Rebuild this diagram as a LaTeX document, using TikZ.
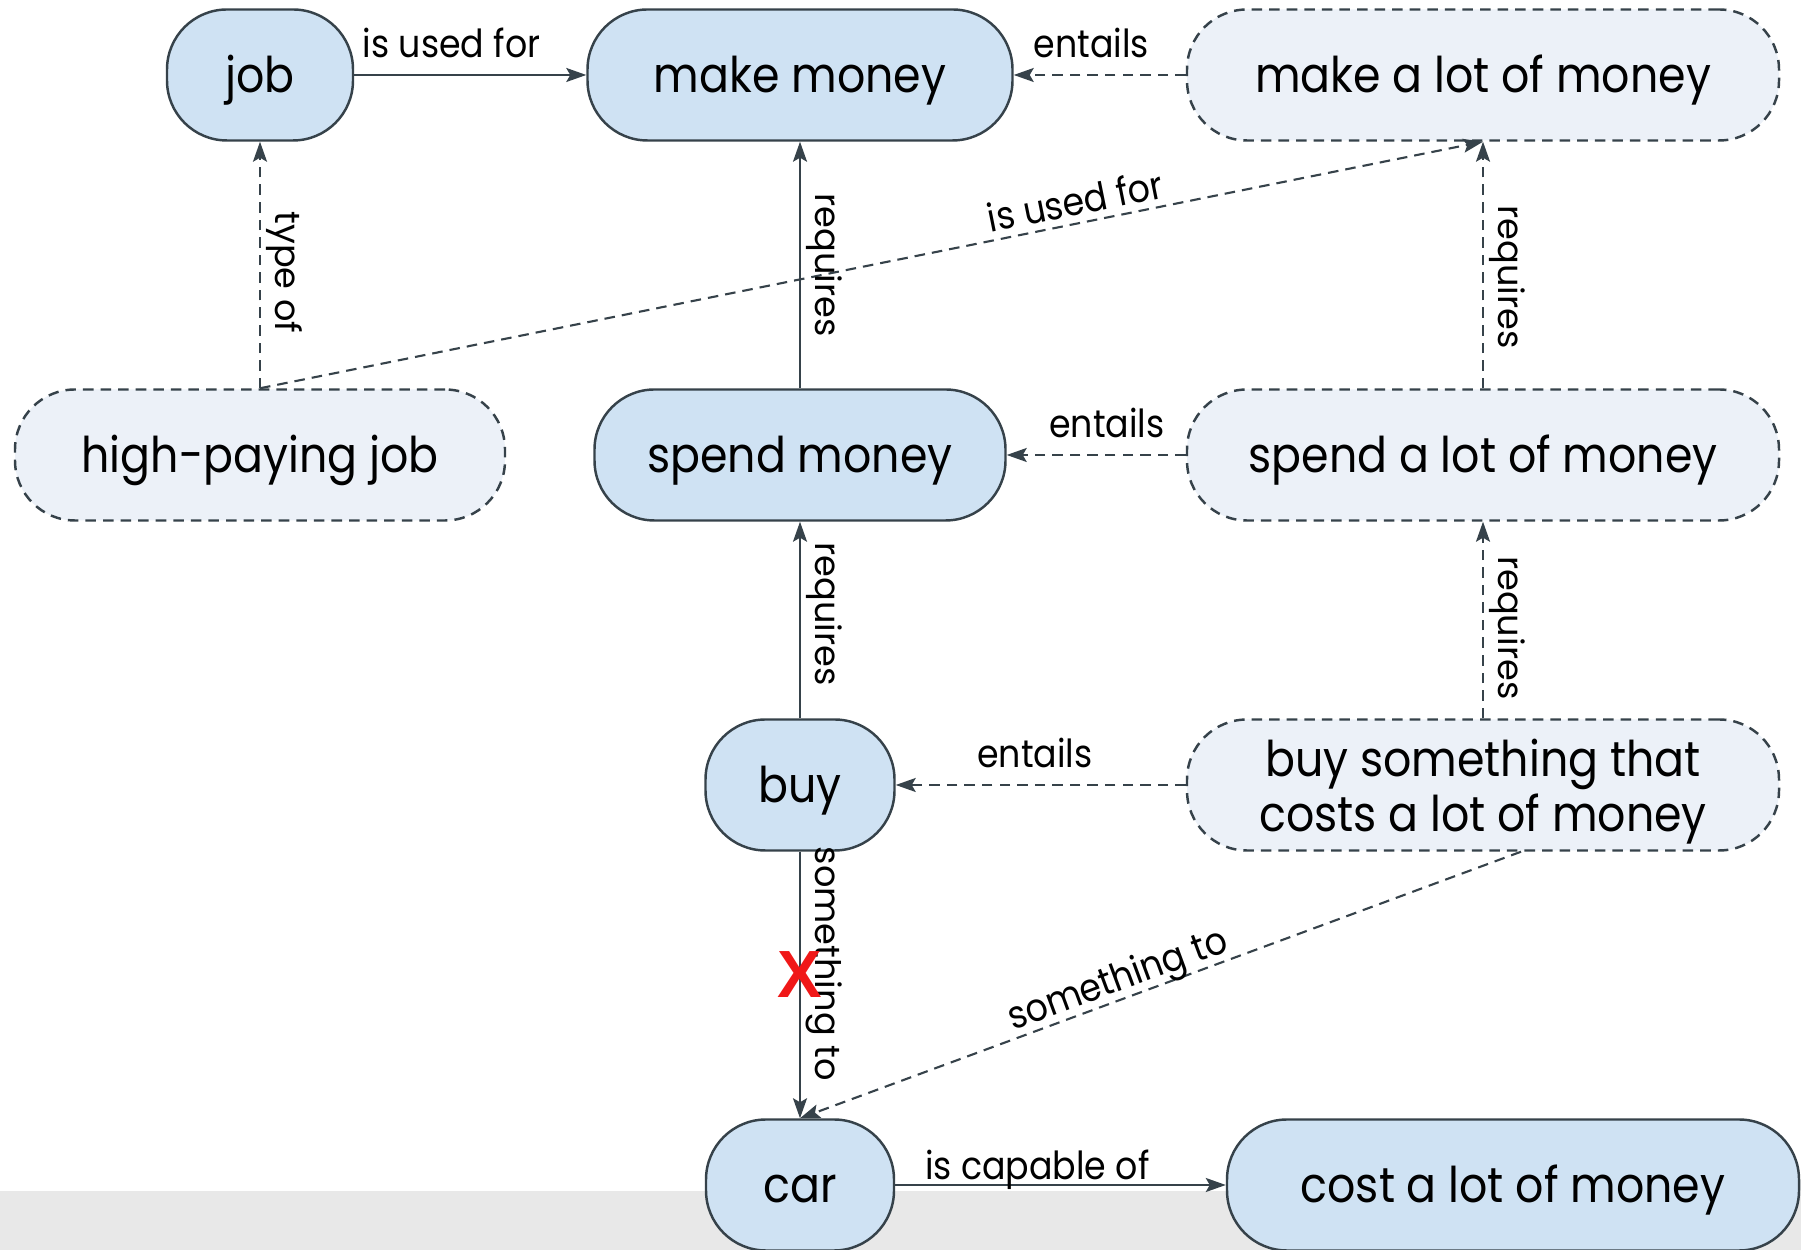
\documentclass[tikz,border=0pt]{standalone}
\usepackage{fontspec}
\setmainfont{Poppins}[FakeStretch=0.9]
\newfontfamily\vlabfont{Poppins}
\newfontfamily\xfont{Liberation Sans}
\usetikzlibrary{arrows.meta}

\definecolor{linecol}{HTML}{36424A}
\definecolor{nodefill}{HTML}{CFE2F3}
\definecolor{inffill}{HTML}{ECF1F8}
\definecolor{bandgray}{HTML}{E8E8E8}
\definecolor{xred}{HTML}{F01818}

\begin{document}
\begin{tikzpicture}[
  concept/.style={draw=linecol, line width=0.7pt, fill=nodefill, rounded corners=0.6cm,
    minimum height=1.31cm, inner sep=0pt, align=center, text height=0.36cm, text depth=0pt,
    font=\fontsize{14}{15.6}\selectfont},
  inferred/.style={concept, fill=inffill, dash pattern=on 3pt off 2pt},
  rel/.style={draw=linecol, line width=0.6pt, -{Stealth[length=2mm,width=1.4mm,inset=0.4mm]}},
  relinf/.style={rel, dash pattern=on 3pt off 2pt},
  lab/.style={font=\fontsize{11}{13}\selectfont, inner sep=0pt, text depth=0pt},
  hlab/.style={lab, above=4.8pt},
  vlab/.style={font=\vlabfont\fontsize{10}{12}\selectfont, rotate=-90, anchor=south, inner sep=1.5pt}
]
\useasboundingbox (0,0) rectangle (18.01,12.5);
% grey strip at the bottom
\fill[bandgray] (0,0) rectangle (18.01,0.59);

% top row
\node[concept, minimum width=1.86cm] (job) at (2.6,11.75) {job};
\node[concept, minimum width=4.25cm] (makemoney) at (8.0,11.75) {make money};
\node[inferred, minimum width=5.92cm] (makelot) at (14.83,11.75) {make a lot of money};
% second row
\node[inferred, minimum width=4.9cm] (hpjob) at (2.6,7.95) {high-paying job};
\node[concept, minimum width=4.11cm] (spend) at (8.0,7.95) {spend money};
\node[inferred, minimum width=5.92cm] (spendlot) at (14.83,7.95) {spend a lot of money};
% third row
\node[concept, minimum width=1.89cm] (buy) at (8.0,4.65) {buy};
\node[inferred, minimum width=5.92cm, text height={}] (buylot) at (14.83,4.65) {buy something that\\costs a lot of money};
% bottom row
\node[concept, minimum width=1.88cm] (car) at (8.0,0.65) {car};
\node[concept, minimum width=5.72cm] (cost) at (15.13,0.65) {cost a lot of money};

% relations
\draw[rel] (job) -- node[hlab, pos=0.42] (l1) {is used for} (makemoney);
\draw[relinf] (makelot) -- node[hlab, pos=0.55] (l2) {entails} (makemoney);
\draw[relinf] (hpjob.north) -- node[vlab, pos=0.47] (l3) {type of} (job.south);
\draw[relinf] (hpjob.north) -- node[lab, sloped, above=2pt, pos=0.67] (l4) {is used for} (makelot.south);
\draw[rel] (spend) -- node[vlab] (l5) {requires} (makemoney);
\draw[relinf] (spendlot) -- node[hlab, pos=0.44] (l6) {entails} (spend);
\draw[relinf] (spendlot) -- node[vlab, pos=0.45] (l7) {requires} (makelot);
\draw[rel] (buy) -- node[vlab, pos=0.53] (l8) {requires} (spend);
\draw[relinf] (buylot) -- node[hlab, pos=0.52] (l9) {entails} (buy);
\draw[relinf] (buylot) -- node[vlab, pos=0.46] (l10) {requires} (spendlot);
\draw[rel] (buy) -- node[vlab, pos=0.42] (l11) {something to}
  node[pos=0.46, text=xred, font=\xfont\bfseries\fontsize{19}{19}\selectfont] (xmark) {X} (car);
\draw[relinf] ([xshift=0.38cm]buylot.south) -- node[lab, sloped, above=2pt, pos=0.55] (l12) {something to} (car.north);
\draw[rel] (car) -- node[lab, above=1.4pt, pos=0.43] (l13) {is capable of} (cost);

\end{tikzpicture}
\end{document}
